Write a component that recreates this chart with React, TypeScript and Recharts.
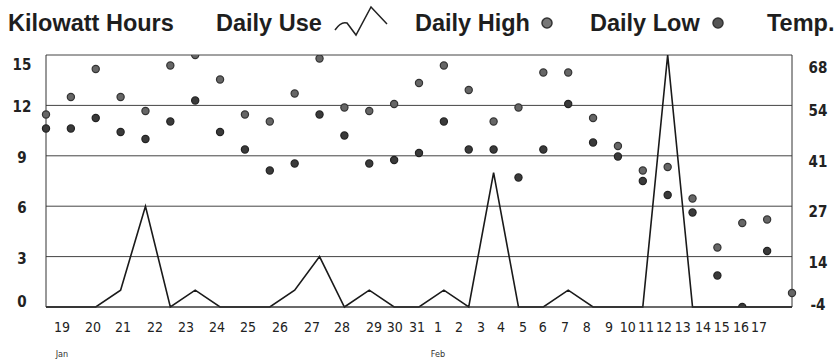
import { ComposedChart, Line, Scatter, XAxis, YAxis, CartesianGrid } from 'recharts'

// day labels printed under the plot, and where each one sits on the day axis
const dateLabels = ['19', '20', '21', '22', '23', '24', '25', '26', '27', '28', '29', '30', '31', '1', '2', '3', '4', '5', '6', '7', '8', '9', '10', '11', '12', '13', '14', '15', '16', '17']
const dateTickAt = [0.64, 1.89, 3.1, 4.38, 5.63, 6.88, 8.12, 9.41, 10.7, 11.9, 13.19, 14.03, 14.92, 15.76, 16.61, 17.49, 18.3, 19.18, 19.98, 20.87, 21.75, 22.64, 23.4, 24.13, 24.85, 25.61, 26.42, 27.18, 27.95, 28.67]
const months = ['Jan', 'Feb']
const monthStarts = ['19', '1']

const kwhTicks = [0, 3, 6, 9, 12, 15]
const tempTicks = [-4, 10.4, 24.8, 39.2, 53.6, 68]
const tempTickLabels = ['-4', '14', '27', '41', '54', '68']

// kWh per day
const dailyUse = [0, 0, 0, 1, 6, 0, 1, 0, 0, 0, 1, 3, 0, 1, 0, 0, 1, 0, 8, 0, 0, 1, 0, 0, 0, 15, 0, 0, 0, 0, 0]
// temperatures (F)
const dailyHigh = [51, 56, 64, 56, 52, 65, 68, 61, 51, 49, 57, 67, 53, 52, 54, 60, 65, 58, 49, 53, 63, 63, 50, 42, 35, 36, 27, 13, 20, 21, 0]
const dailyLow: (number | null)[] = [47, 47, 50, 46, 44, 49, 55, 46, 41, 35, 37, 51, 45, 37, 38, 40, 49, 41, 41, 33, 41, 54, 43, 39, 32, 28, 23, 5, -4, 12, null]

const rows = dailyUse.map((kwh, i) => ({ i, kwh, high: dailyHigh[i], low: dailyLow[i] }))
const lowRows = rows.filter((r) => r.low != null)

const axisFont = "'Liberation Sans Narrow', 'DejaVu Sans Condensed', 'Liberation Sans', Arial, sans-serif"
const legendFont = "'Liberation Sans', Arial, sans-serif"

function DayTick({ x, y, payload, index }: any) {
  const label = dateLabels[index] ?? ''
  const m = monthStarts.indexOf(label)
  return (
    <g>
      <text x={x} y={y + 20} textAnchor="middle" dominantBaseline="central" fontSize={14} fontFamily={axisFont} fill="#222">
        {label}
      </text>
      {m >= 0 && (
        <text x={x} y={y + 47} textAnchor="middle" dominantBaseline="central" fontSize={9} fontFamily={axisFont} fill="#333">
          {months[m]}
        </text>
      )}
    </g>
  )
}

function KwhTick({ x, y, payload, index }: any) {
  const nudge = payload.value === 15 ? 10 : payload.value === 0 ? -5 : 2
  return (
    <text x={x - 24} y={y + nudge} textAnchor="middle" dominantBaseline="central" fontSize={15} fontWeight="bold" fontFamily={axisFont} fill="#222">
      {payload.value}
    </text>
  )
}

function TempTick({ x, y, payload, index }: any) {
  const nudge = index === tempTicks.length - 1 ? 13 : index === 0 ? -2 : 6
  return (
    <text x={x + 26} y={y + nudge} textAnchor="middle" dominantBaseline="central" fontSize={15} fontWeight="bold" fontFamily={axisFont} fill="#222">
      {tempTickLabels[index]}
    </text>
  )
}

const highDot = (p: any) => <circle cx={p.cx} cy={p.cy} r={3.6} fill="#666" stroke="#333" strokeWidth={1.2} />
const lowDot = (p: any) => <circle cx={p.cx} cy={p.cy} r={3.6} fill="#3a3a3a" stroke="#222" strokeWidth={1.2} />

function LegendRow() {
  const t = { fontSize: 23.5, fontWeight: 'bold' as const, fontFamily: legendFont, fill: '#1e1e1e' }
  return (
    <svg width={835} height={45} style={{ position: 'absolute', left: 0, top: 0 }}>
      <text x={8} y={31} {...t}>Kilowatt Hours</text>
      <text x={216} y={31} {...t}>Daily Use</text>
      <path d="M335 30 Q341 21 347 23 L356 35 L371 7 L387 24" fill="none" stroke="#222" strokeWidth={1.5} />
      <text x={415} y={31} {...t}>Daily High</text>
      <circle cx={547} cy={23} r={5} fill="#777" stroke="#333" strokeWidth={1.5} />
      <text x={590} y={31} {...t}>Daily Low</text>
      <circle cx={718} cy={23} r={5} fill="#555" stroke="#333" strokeWidth={1.5} />
      <text x={767} y={31} {...t}>Temp.</text>
    </svg>
  )
}

export default function App() {
  return (
    <div style={{ position: 'absolute', left: 0, top: 0, width: 835, height: 360, background: '#fff' }}>
      <ComposedChart width={835} height={360} data={rows} margin={{ top: 55, right: 0, bottom: 0, left: 0 }}>
        <CartesianGrid yAxisId="kwh" vertical={false} stroke="#444" strokeWidth={1} />
        <XAxis
          dataKey="i"
          type="number"
          domain={[0, 30]}
          ticks={dateTickAt}
          interval={0}
          height={53}
          tickSize={0}
          tickMargin={0}
          tickLine={false}
          axisLine={{ stroke: '#333' }}
          tick={<DayTick />}
        />
        <YAxis
          yAxisId="kwh"
          domain={[0, 15]}
          ticks={kwhTicks}
          width={46}
          tickSize={0}
          tickMargin={0}
          tickLine={false}
          axisLine={{ stroke: '#333' }}
          tick={<KwhTick />}
        />
        <YAxis
          yAxisId="temp"
          orientation="right"
          domain={[-4, 68]}
          ticks={tempTicks}
          allowDataOverflow
          width={43}
          tickSize={0}
          tickMargin={0}
          tickLine={false}
          axisLine={{ stroke: '#333' }}
          tick={<TempTick />}
        />
        <Line
          yAxisId="kwh"
          type="linear"
          dataKey="kwh"
          stroke="#1a1a1a"
          strokeWidth={1.6}
          dot={false}
          isAnimationActive={false}
        />
        <Scatter yAxisId="temp" dataKey="high" shape={highDot} isAnimationActive={false} />
        <Scatter yAxisId="temp" data={lowRows} dataKey="low" shape={lowDot} isAnimationActive={false} />
      </ComposedChart>
      <LegendRow />
    </div>
  )
}
